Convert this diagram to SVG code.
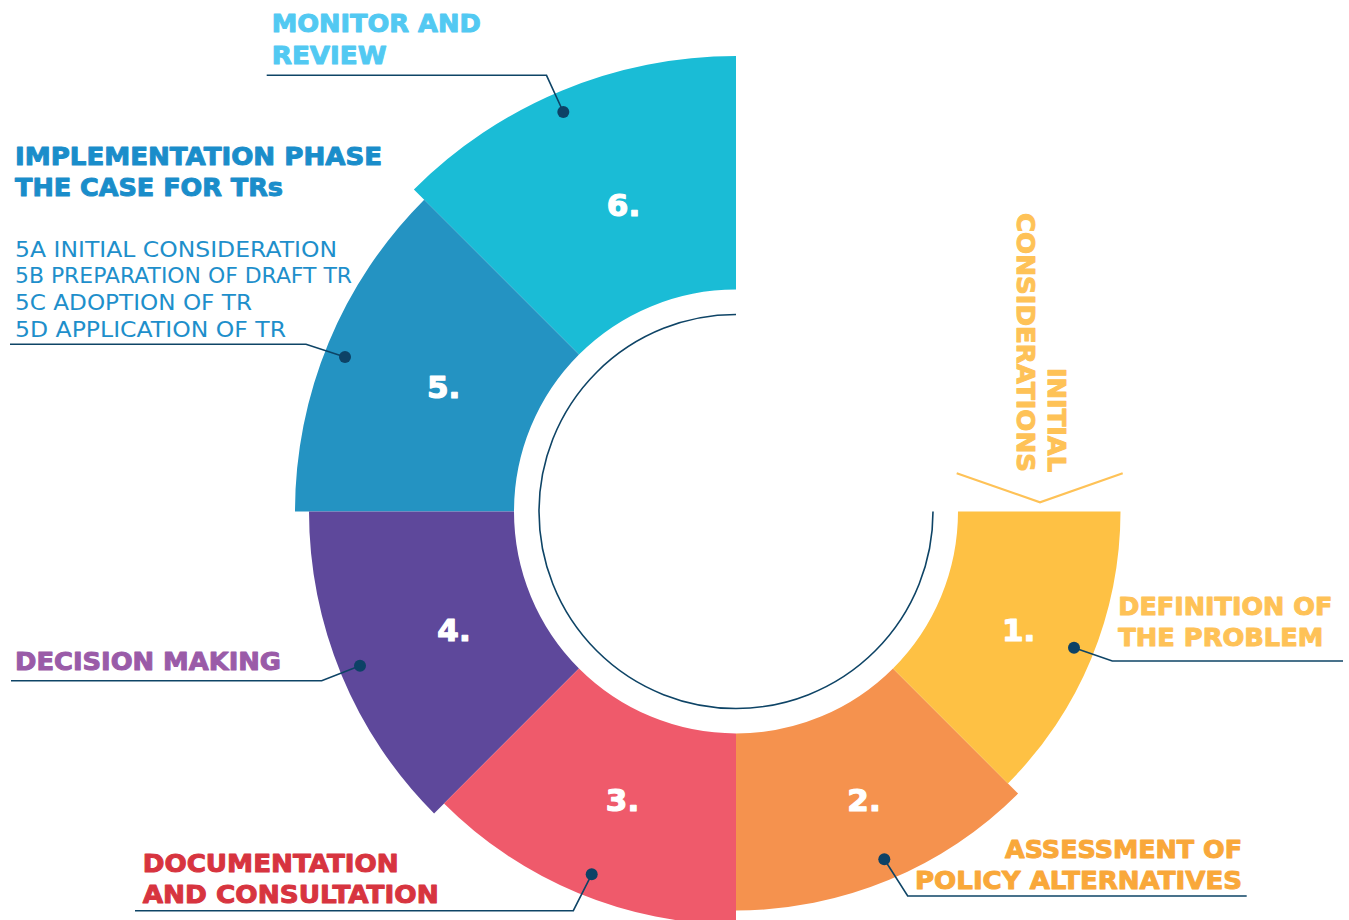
<svg xmlns="http://www.w3.org/2000/svg" width="1349" height="920" viewBox="0 0 1349 920">
<style>
.lbl{font-family:"DejaVu Sans","Liberation Sans",sans-serif;font-weight:bold;font-size:25px;stroke-width:1;stroke-linejoin:round}
.sub{font-family:"DejaVu Sans","Liberation Sans",sans-serif;font-weight:normal;font-size:21px;fill:#1E8FCB}
.num{font-family:"DejaVu Sans","Liberation Sans",sans-serif;font-weight:bold;font-size:31px;fill:#FFFFFF;stroke:#FFFFFF;stroke-width:1.2;stroke-linejoin:round;text-anchor:middle}
.lead{fill:none;stroke:#0E4466;stroke-width:1.6}
.dot{fill:#0D4266}
</style>
<rect width="1349" height="920" fill="#FFFFFF"/>
<g id="seg6">
<path d="M736,56 A455.5,455.5 0 0 0 413.9,189.4 L579,354.5 A222,222 0 0 1 736,289.5 Z" fill="#1ABCD6"/>
<text class="num" x="623.5" y="216">6.</text>
</g>
<g id="seg5">
<path d="M424.2,199.7 A441,441 0 0 0 295,511.5 L514,511.5 A222,222 0 0 1 579,354.5 Z" fill="#2493C2"/>
<text class="num" x="443.7" y="397.5">5.</text>
</g>
<g id="seg4">
<path d="M309,511.5 A427,427 0 0 0 434.1,813.4 L579,668.5 A222,222 0 0 1 514,511.5 Z" fill="#5E489B"/>
<text class="num" x="454" y="641">4.</text>
</g>
<g id="seg3">
<path d="M444,803.5 A413,413 0 0 0 736,924.5 L736,733.5 A222,222 0 0 1 579,668.5 Z" fill="#EF5A6B"/>
<text class="num" x="622.5" y="811">3.</text>
</g>
<g id="seg2">
<path d="M736,910.5 A399,399 0 0 0 1018.1,793.6 L893,668.5 A222,222 0 0 1 736,733.5 Z" fill="#F5924E"/>
<text class="num" x="864" y="811">2.</text>
</g>
<g id="seg1">
<path d="M1007.9,783.4 A384.5,384.5 0 0 0 1120.5,511.5 L958,511.5 A222,222 0 0 1 893,668.5 Z" fill="#FEC144"/>
<text class="num" x="1018.7" y="641">1.</text>
</g>
<g id="inner-ring">
<path d="M736,314.5 A197,197 0 1 0 933,511.5" fill="none" stroke="#0E4466" stroke-width="1.6"/>
</g>
<g id="initial-considerations">
<text class="lbl" fill="#FEC257" stroke="#FEC257" transform="translate(1048,472) rotate(90)" text-anchor="end"><tspan x="0" y="0" textLength="104" lengthAdjust="spacingAndGlyphs">INITIAL</tspan><tspan x="0" y="31" textLength="259" lengthAdjust="spacingAndGlyphs">CONSIDERATIONS</tspan></text>
<polyline points="956.7,473.3 1040,502.3 1122.7,473.3" fill="none" stroke="#FEC257" stroke-width="2.2"/>
</g>
<g id="label-monitor">
<text class="lbl" fill="#52C9F2" stroke="#52C9F2"><tspan x="271.7" y="31.7" textLength="209" lengthAdjust="spacingAndGlyphs">MONITOR AND</tspan><tspan x="271.7" y="63.5" textLength="115" lengthAdjust="spacingAndGlyphs">REVIEW</tspan></text>
</g>
<g id="label-implementation">
<text class="lbl" fill="#1A8DCA" stroke="#1A8DCA"><tspan x="15" y="165" textLength="367" lengthAdjust="spacingAndGlyphs">IMPLEMENTATION PHASE</tspan><tspan x="15" y="196" textLength="268" lengthAdjust="spacingAndGlyphs">THE CASE FOR TRs</tspan></text>
<text class="sub"><tspan x="15" y="256.7" textLength="322" lengthAdjust="spacingAndGlyphs">5A INITIAL CONSIDERATION</tspan><tspan x="15" y="283.3" textLength="337" lengthAdjust="spacingAndGlyphs">5B PREPARATION OF DRAFT TR</tspan><tspan x="15" y="310" textLength="237" lengthAdjust="spacingAndGlyphs">5C ADOPTION OF TR</tspan><tspan x="15" y="336.7" textLength="271" lengthAdjust="spacingAndGlyphs">5D APPLICATION OF TR</tspan></text>
</g>
<g id="label-decision">
<text class="lbl" fill="#9A5BA8" stroke="#9A5BA8"><tspan x="15" y="670" textLength="266" lengthAdjust="spacingAndGlyphs">DECISION MAKING</tspan></text>
</g>
<g id="label-documentation">
<text class="lbl" fill="#D7343F" stroke="#D7343F"><tspan x="142.7" y="871.7" textLength="256" lengthAdjust="spacingAndGlyphs">DOCUMENTATION</tspan><tspan x="142.7" y="902.7" textLength="296" lengthAdjust="spacingAndGlyphs">AND CONSULTATION</tspan></text>
</g>
<g id="label-assessment">
<text class="lbl" fill="#F9A83A" stroke="#F9A83A"><tspan x="1005" y="857.7" textLength="237" lengthAdjust="spacingAndGlyphs">ASSESSMENT OF</tspan><tspan x="915" y="888.7" textLength="327" lengthAdjust="spacingAndGlyphs">POLICY ALTERNATIVES</tspan></text>
</g>
<g id="label-definition">
<text class="lbl" fill="#FEC257" stroke="#FEC257"><tspan x="1118.3" y="615" textLength="214" lengthAdjust="spacingAndGlyphs">DEFINITION OF</tspan><tspan x="1118.3" y="646" textLength="205" lengthAdjust="spacingAndGlyphs">THE PROBLEM</tspan></text>
</g>
<g id="connectors">
<polyline class="lead" points="266.7,75.3 546.5,75.3 563.3,112"/>
<circle class="dot" cx="563.3" cy="112" r="6"/>
<polyline class="lead" points="10,344.3 306,344.3 345,357"/>
<circle class="dot" cx="345" cy="357" r="6"/>
<polyline class="lead" points="11,680.7 321.7,680.7 360,665.7"/>
<circle class="dot" cx="360" cy="665.7" r="6"/>
<polyline class="lead" points="135,910.7 573.3,910.7 591.7,874.3"/>
<circle class="dot" cx="591.7" cy="874.3" r="6"/>
<polyline class="lead" points="1246.7,896 907.7,896 884.3,859.3"/>
<circle class="dot" cx="884.3" cy="859.3" r="6"/>
<polyline class="lead" points="1343,661 1112.3,661 1074,647.7"/>
<circle class="dot" cx="1074" cy="647.7" r="6"/>
</g>
</svg>
